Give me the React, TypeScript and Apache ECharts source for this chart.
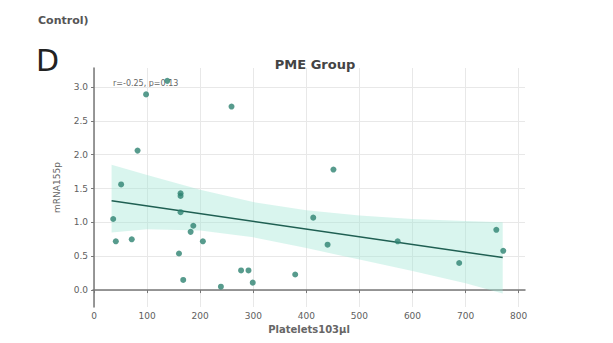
import React, { useEffect, useRef } from "react";
import * as echarts from "echarts";

const pointX = [98, 138, 259, 82, 51, 163, 163, 451, 36, 163, 41, 71, 187, 182, 205, 160, 168, 239, 277, 291, 299, 379, 413, 440, 572, 688, 758, 771];
const pointY = [2.89, 3.09, 2.71, 2.06, 1.56, 1.43, 1.39, 1.78, 1.05, 1.15, 0.72, 0.75, 0.95, 0.86, 0.72, 0.54, 0.15, 0.05, 0.29, 0.29, 0.11, 0.23, 1.07, 0.67, 0.72, 0.4, 0.89, 0.58];

const fitX = [33, 770];
const fitY = [1.32, 0.48];

const bandX = [33, 100, 200, 300, 400, 500, 600, 700, 770];
const bandUpper = [1.85, 1.7, 1.48, 1.3, 1.18, 1.1, 1.05, 1.02, 1.0];
const bandLower = [0.85, 0.9, 0.88, 0.78, 0.62, 0.45, 0.28, 0.1, -0.05];

const xTicks = [0, 100, 200, 300, 400, 500, 600, 700, 800];
const yTicks = [0, 0.5, 1, 1.5, 2, 2.5, 3];

const annotation = "r=-0.25, p=0.13";

export default function App() {
  const ref = useRef<HTMLDivElement>(null);
  useEffect(() => {
    if (!ref.current) return;
    const chart = echarts.init(ref.current, undefined, { renderer: "svg" });
    const bandPoly = [
      ...bandX.map((x, i) => [x, bandUpper[i]]),
      ...bandX.map((x, i) => [x, bandLower[i]]).reverse(),
    ];
    const tickColor = "#606060";
    chart.setOption({
      animation: false,
      backgroundColor: "#fff",
      grid: { left: 93, right: 88, top: 68, bottom: 36, containLabel: false },
      title: {
        text: "PME Group",
        left: 310,
        top: 53,
        textAlign: "center",
        textStyle: { fontSize: 13, color: "#444", fontWeight: 600, fontFamily: "DejaVu Sans" },
      },
      graphic: [
        {
          type: "text",
          left: 38,
          top: 15,
          style: { text: "Control)", fontSize: 11, fontWeight: "bold", fill: "#555", fontFamily: "DejaVu Sans" },
        },
        {
          type: "text",
          left: 36,
          top: 45,
          style: { text: "D", fontSize: 30, fill: "#222", fontFamily: "DejaVu Sans" },
        },
        {
          type: "text",
          left: 113,
          top: 79,
          style: { text: annotation, fontSize: 8, fill: "#666", fontFamily: "DejaVu Sans" },
        },
      ],
      xAxis: {
        type: "value",
        min: -2,
        max: 812,
        name: "Platelets103μl",
        nameLocation: "middle",
        nameGap: 17,
        nameTextStyle: { fontSize: 10, color: "#666", fontFamily: "DejaVu Sans", fontWeight: "bold" },
        axisLine: { show: true, lineStyle: { color: "#777", width: 1.5 } },
        axisTick: { show: true, length: 3, customValues: xTicks, lineStyle: { color: "#777" } },
        axisLabel: { customValues: xTicks, fontSize: 9, color: tickColor, margin: 4, fontFamily: "DejaVu Sans" },
        splitLine: { show: true, lineStyle: { color: "#e8e8e8", width: 1 } },
      },
      yAxis: {
        type: "value",
        min: -0.25,
        max: 3.28,
        name: "mRNA155p",
        nameLocation: "middle",
        nameGap: 32,
        nameRotate: 90,
        nameTextStyle: { fontSize: 9, color: "#666", fontFamily: "DejaVu Sans" },
        axisLine: { show: true, lineStyle: { color: "#777", width: 1.5 } },
        axisTick: { show: true, length: 3, customValues: yTicks, lineStyle: { color: "#777" } },
        axisLabel: {
          customValues: yTicks,
          fontSize: 9,
          color: tickColor,
          margin: 5,
          fontFamily: "DejaVu Sans",
          formatter: (v: number) => v.toFixed(1),
        },
        splitLine: { show: true, lineStyle: { color: "#e8e8e8", width: 1 } },
      },
      series: [
        {
          type: "custom",
          silent: true,
          z: 1,
          data: [0],
          renderItem: (_params: any, api: any) => ({
            type: "polygon",
            shape: { points: bandPoly.map((p) => api.coord(p)) },
            style: { fill: "rgba(160, 230, 212, 0.4)" },
          }),
        },
        {
          type: "line",
          z: 3,
          data: fitX.map((x, i) => [x, fitY[i]]),
          showSymbol: false,
          lineStyle: { color: "#1f5f52", width: 1.5 },
        },
        {
          type: "scatter",
          z: 4,
          data: pointX.map((x, i) => [x, pointY[i]]),
          symbolSize: 6,
          itemStyle: { color: "#2d8270" },
        },
      ],
    });
    return () => chart.dispose();
  }, []);
  return <div ref={ref} style={{ position: "fixed", left: 0, top: 0, width: 613, height: 343 }} />;
}
